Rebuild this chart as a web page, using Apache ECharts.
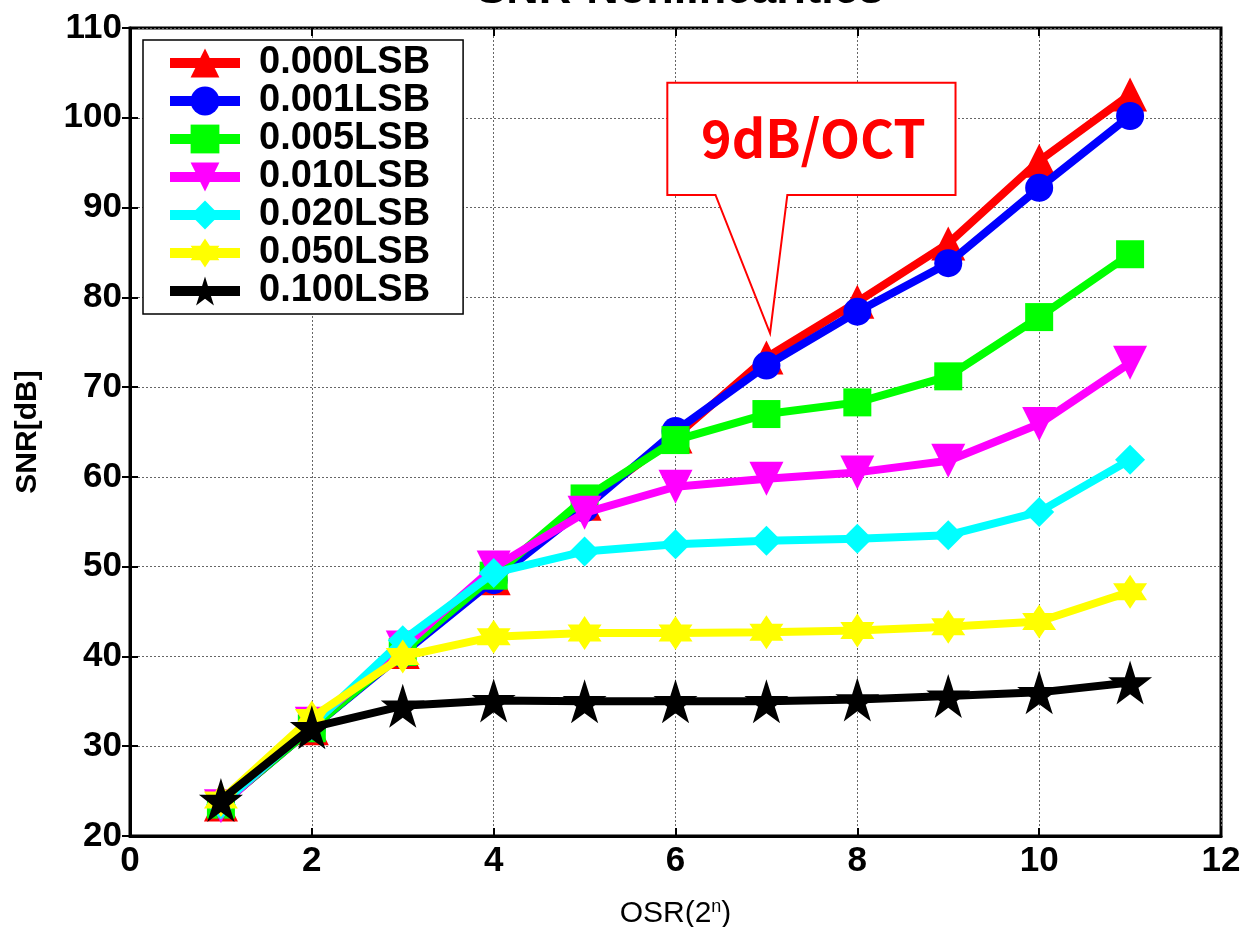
<!DOCTYPE html>
<html>
<head>
<meta charset="utf-8">
<script src="https://cdn.jsdelivr.net/npm/echarts@6/dist/echarts.min.js"></script>
<style>
    html, body { margin: 0; padding: 0; background: #fff; }
    #chart { width: 1244px; height: 927px; }
</style>
</head>
<body>
<div id="chart"></div>
<script>
    // OSR exponent n
    let osr = [1, 2, 3, 4, 5, 6, 7, 8, 9, 10, 11];
    // SNR[dB] per nonlinearity level
    let lsb000 = [23.5, 32.0, 40.5, 48.7, 57.0, 64.5, 73.3, 79.5, 86.0, 95.2, 102.6];
    let lsb001 = [23.5, 32.0, 40.3, 48.5, 56.5, 65.1, 72.4, 78.4, 83.8, 92.2, 100.2];
    let lsb005 = [23.5, 32.0, 40.5, 49.0, 57.6, 64.1, 67.0, 68.3, 71.2, 77.8, 84.8];
    let lsb010 = [23.3, 32.5, 41.0, 49.9, 56.0, 58.9, 59.8, 60.5, 61.8, 65.9, 72.7];
    let lsb020 = [23.5, 32.3, 41.8, 49.3, 51.7, 52.5, 52.9, 53.1, 53.5, 56.1, 61.9];
    let lsb050 = [24.0, 33.2, 40.0, 42.2, 42.6, 42.6, 42.7, 42.9, 43.3, 43.9, 47.2];
    let lsb100 = [24.0, 32.1, 34.5, 35.1, 35.0, 35.0, 35.0, 35.2, 35.6, 36.0, 37.1];

    let names = ['0.000LSB', '0.001LSB', '0.005LSB', '0.010LSB', '0.020LSB', '0.050LSB', '0.100LSB'];
    let colors = ['#ff0000', '#0000ff', '#00ff00', '#ff00ff', '#00ffff', '#ffff00', '#000000'];
    let values = [lsb000, lsb001, lsb005, lsb010, lsb020, lsb050, lsb100];

    // 记号形状
    let triDown = 'path://M0,0 L10,0 L5,9 Z';
    let hexStar = 'path://M5,0 L6.44,2.5 L9.33,2.5 L7.89,5 L9.33,7.5 L6.44,7.5 L5,10 L3.56,7.5 L0.67,7.5 L2.11,5 L0.67,2.5 L3.56,2.5 Z';
    let star5 = 'path://M5,0 L6.18,3.6 L10,3.6 L6.9,5.9 L8.1,9.5 L5,7.3 L1.9,9.5 L3.1,5.9 L0,3.6 L3.82,3.6 Z';
    let symbols = ['triangle', 'circle', 'rect', triDown, 'diamond', hexStar, star5];
    let sizes = [34, 28, 28, 34, 30, 34, 44];

    let font = 'Liberation Sans, Arial, sans-serif';

    let myChart = echarts.init(document.getElementById('chart'));

    let series = values.map(function (v, i) {
        return {
            name: names[i],
            type: 'line',
            data: osr.map(function (x, k) { return [x, v[k]]; }),
            symbol: symbols[i],
            symbolSize: sizes[i],
            showAllSymbol: true,
            z: 2 + i,
            lineStyle: { color: colors[i], width: 8 },
            itemStyle: { color: colors[i], opacity: 1 },
            emphasis: { disabled: true },
            animation: false
        };
    });

    let tickStyle = { show: true, inside: true, length: 8, lineStyle: { color: '#000', width: 2 } };

    myChart.setOption({
        animation: false,
        title: {
            text: 'SNR-Nonlinearities',
            left: 675,
            textAlign: 'center',
            top: -37,
            textStyle: { fontFamily: font, fontSize: 45, fontWeight: 'bold', color: '#000' }
        },
        grid: {
            left: 130,
            right: 23,
            top: 28,
            bottom: 91,
            containLabel: false,
            outerBoundsMode: 'none',
            show: true,
            borderColor: '#000',
            borderWidth: 3,
            backgroundColor: '#fff'
        },
        legend: {
            data: names,
            orient: 'vertical',
            left: 143,
            top: 40,
            padding: [4, 33, 4, 22],
            itemGap: 0,
            itemWidth: 70,
            itemHeight: 36,
            backgroundColor: '#fff',
            borderColor: '#000',
            borderWidth: 1.5,
            lineStyle: { width: 10 },
            textStyle: { fontFamily: font, fontSize: 38, fontWeight: 'bold', color: '#000', lineHeight: 36, padding: [0, 0, 0, 14] },
            selectedMode: false
        },
        xAxis: [{
            type: 'value',
            min: 0,
            max: 12,
            interval: 2,
            name: 'OSR(2{sup|n})',
            nameLocation: 'middle',
            nameGap: 62,
            nameTextStyle: {
                fontFamily: font, fontSize: 30, color: '#000',
                rich: { sup: { fontFamily: font, fontSize: 18, color: '#000', verticalAlign: 'top', padding: [0, 0, 14, 0] } }
            },
            axisLine: { show: true, lineStyle: { color: '#000', width: 3 } },
            axisTick: tickStyle,
            axisLabel: { fontFamily: font, fontSize: 35, fontWeight: 'bold', color: '#000', margin: 8 },
            splitLine: { show: true, lineStyle: { color: '#666', width: 1, type: [2, 2] } }
        }, {
            type: 'value',
            position: 'top',
            min: 0,
            max: 12,
            interval: 2,
            axisLine: { show: false },
            axisTick: tickStyle,
            axisLabel: { show: false },
            splitLine: { show: false }
        }],
        yAxis: [{
            type: 'value',
            min: 20,
            max: 110,
            interval: 10,
            name: 'SNR[dB]',
            nameLocation: 'middle',
            nameGap: 87,
            nameTextStyle: { fontFamily: font, fontSize: 30, fontWeight: 'bold', color: '#000' },
            axisLine: { show: true, lineStyle: { color: '#000', width: 3 } },
            axisTick: tickStyle,
            axisLabel: { fontFamily: font, fontSize: 35, fontWeight: 'bold', color: '#000', margin: 8 },
            splitLine: { show: true, lineStyle: { color: '#666', width: 1, type: [2, 2] } }
        }, {
            type: 'value',
            position: 'right',
            min: 20,
            max: 110,
            interval: 10,
            axisLine: { show: false },
            axisTick: tickStyle,
            axisLabel: { show: false },
            splitLine: { show: false }
        }],
        series: series
    });

    // 9dB/OCT 标注框, 按数据坐标定位
    function px(x, y) {
        return myChart.convertToPixel({ gridIndex: 0 }, [x, y]);
    }
    let tl = px(5.91, 103.9);
    let br = px(9.08, 91.4);
    let b1 = px(6.44, 91.4);
    let b2 = px(7.23, 91.4);
    let tip = px(7.04, 76.0);
    myChart.setOption({
        graphic: [{
            type: 'polygon',
            z: 100,
            shape: {
                points: [[tl[0], tl[1]], [br[0], tl[1]], [br[0], br[1]], [b2[0], br[1]],
                    [tip[0], tip[1]], [b1[0], br[1]], [tl[0], br[1]]]
            },
            style: { fill: '#fff', stroke: '#ff0000', lineWidth: 2 }
        }, {
            type: 'text',
            z: 101,
            x: (tl[0] + br[0]) / 2 + 2,
            y: (tl[1] + br[1]) / 2 - 1,
            style: {
                text: '9dB/OCT',
                fill: '#ff0000',
                font: 'bold 52px "Noto Sans CJK JP", "Noto Sans", sans-serif',
                align: 'center',
                verticalAlign: 'middle'
            }
        }]
    });
</script>
</body>
</html>
